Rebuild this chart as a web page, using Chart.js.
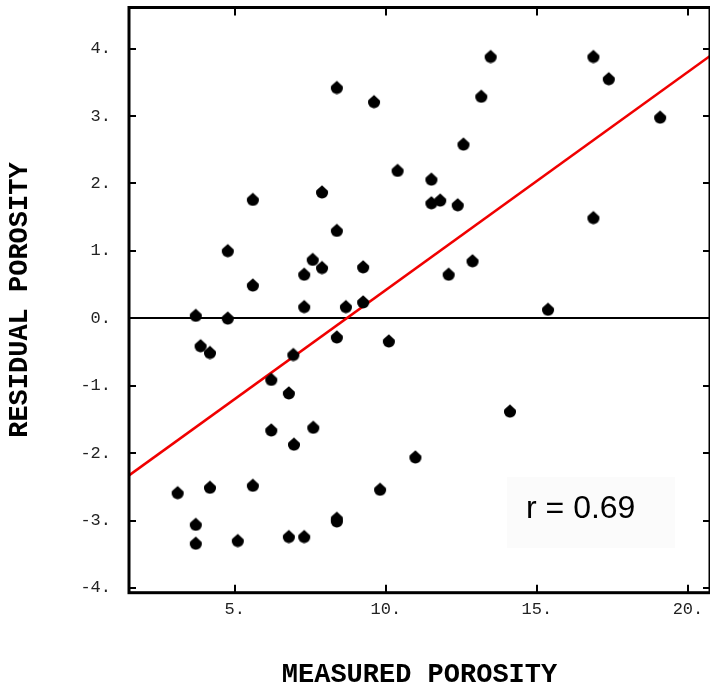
<!DOCTYPE html>
<html>
<head>
<meta charset="utf-8">
<script src="https://cdn.jsdelivr.net/npm/chart.js@4"></script>
<style>
    html, body { margin: 0; padding: 0; background: #fff; overflow: hidden; }
    #graf { display: block; }
</style>
</head>
<body>
<canvas id="graf" width="710" height="689"></canvas>
<script>
// measured porosity vs residual porosity
let porosityX = [8.38, 5.60, 7.89, 4.77, 8.38, 7.58, 7.89, 7.30, 5.60, 7.30, 8.68, 3.71, 4.77,
    9.61, 13.47, 16.87, 17.38, 13.16, 19.08, 12.57, 10.39, 11.51, 11.51, 11.80, 12.38, 16.87,
    9.25, 12.87, 12.08, 9.25, 15.37, 3.87, 4.18, 6.94, 8.38, 6.21, 6.79, 6.21, 7.60, 6.96,
    3.11, 4.18, 5.60, 3.71, 3.71, 5.10, 6.79, 7.30, 8.38, 8.38, 10.10, 14.11, 10.98, 9.81];
let residualY = [3.43, 1.77, 1.88, 1.01, 1.31, 0.88, 0.76, 0.66, 0.50, 0.18, 0.18, 0.05, 0.01,
    3.22, 3.89, 3.89, 3.56, 3.30, 2.99, 2.59, 2.20, 2.07, 1.72, 1.76, 1.69, 1.50,
    0.77, 0.86, 0.66, 0.25, 0.14, -0.40, -0.50, -0.53, -0.27, -0.90, -1.10, -1.65, -1.61, -1.86,
    -2.58, -2.50, -2.47, -3.05, -3.33, -3.29, -3.23, -3.23, -2.96, -3.00, -0.33, -1.37, -2.05, -2.53];

// regression line end points
let fitX = [1.5, 20.73];
let fitY = [-2.33, 3.89];

let xTicks = [5, 10, 15, 20];
let yTicks = [-4, -3, -2, -1, 0, 1, 2, 3, 4];
let rText = "r = 0.69";

let monoFont = "'Liberation Mono', 'Courier New', monospace";

// teardrop shaped marker
function makeMarker() {
    let c = document.createElement("canvas");
    c.width = 14;
    c.height = 15;
    let g = c.getContext("2d");
    g.fillStyle = "#000";
    g.beginPath();
    g.moveTo(7, 1.2);
    g.lineTo(12.6, 6.4);
    g.arc(7, 8.4, 6, -0.35, Math.PI + 0.35);
    g.closePath();
    g.fill();
    return c;
}

// no extra room for the outer tick labels
function noPad(s) {
    s.paddingTop = 0;
    s.paddingBottom = 0;
    s.paddingLeft = 0;
    s.paddingRight = 0;
}

let points = porosityX.map((x, i) => ({ x: x, y: residualY[i] }));
let line = fitX.map((x, i) => ({ x: x, y: fitY[i] }));

// frame, inward ticks and r label
const frame = {
    id: "frame",
    afterDraw(chart) {
        const ctx = chart.ctx;
        const a = chart.chartArea;
        const sx = chart.scales.x;
        const sy = chart.scales.y;
        ctx.save();
        ctx.fillStyle = "#fbfbfb";
        ctx.fillRect(507, 477, 168, 71);
        ctx.fillStyle = "#000";
        ctx.font = "32px 'Liberation Sans', Arial, sans-serif";
        ctx.textBaseline = "alphabetic";
        ctx.fillText(rText, 526, 517.5);

        ctx.strokeStyle = "#000";
        ctx.lineWidth = 3;
        ctx.strokeRect(a.left, a.top, a.right - a.left, a.bottom - a.top);
        ctx.lineWidth = 2;
        ctx.beginPath();
        xTicks.forEach(v => {
            let px = Math.round(sx.getPixelForValue(v));
            ctx.moveTo(px, a.bottom);
            ctx.lineTo(px, a.bottom - 8);
            ctx.moveTo(px, a.top);
            ctx.lineTo(px, a.top + 8);
        });
        yTicks.forEach(v => {
            let py = Math.round(sy.getPixelForValue(v));
            ctx.moveTo(a.left, py);
            ctx.lineTo(a.left + 7, py);
            ctx.moveTo(a.right, py);
            ctx.lineTo(a.right - 7, py);
        });
        ctx.stroke();
        ctx.restore();
    }
};

let chart = new Chart(document.getElementById("graf"), {
    type: "scatter",
    data: {
        datasets: [{
            label: "points",
            data: points,
            pointStyle: makeMarker(),
            pointRadius: 6,
            order: 1
        }, {
            type: "line",
            label: "fit",
            data: line,
            borderColor: "#f00000",
            borderWidth: 2.5,
            pointRadius: 0,
            fill: false,
            order: 2
        }]
    },
    options: {
        responsive: false,
        animation: false,
        events: [],
        // the right side of the frame runs just past the canvas edge
        layout: { autoPadding: false, padding: { top: 7.5, right: -3, left: 0, bottom: 0 } },
        plugins: {
            legend: { display: false },
            tooltip: { enabled: false }
        },
        scales: {
            x: {
                type: "linear",
                min: 1.5,
                max: 20.73,
                afterFit: (s) => { s.height = 96.3; noPad(s); },
                afterBuildTicks: (s) => { s.ticks = xTicks.map(v => ({ value: v })); },
                border: { display: false },
                grid: { display: false, drawTicks: false },
                ticks: {
                    color: "#222",
                    padding: 7,
                    maxRotation: 0,
                    font: { family: monoFont, size: 17 },
                    callback: (v) => v + "."
                },
                title: {
                    display: true,
                    text: "MEASURED POROSITY",
                    color: "#000",
                    padding: { top: 0, bottom: 0 },
                    font: { family: monoFont, size: 27, weight: "bold", lineHeight: 1 }
                }
            },
            y: {
                min: -4.07,
                max: 4.61,
                afterFit: (s) => { s.width = 129; noPad(s); },
                afterBuildTicks: (s) => { s.ticks = yTicks.map(v => ({ value: v })); },
                border: { display: false },
                grid: {
                    drawTicks: false,
                    color: (c) => c.tick && c.tick.value === 0 ? "#000" : "rgba(0,0,0,0)",
                    lineWidth: 2
                },
                ticks: {
                    color: "#222",
                    padding: 18,
                    font: { family: monoFont, size: 17 },
                    callback: (v) => v + "."
                },
                title: {
                    display: true,
                    text: "RESIDUAL POROSITY",
                    color: "#000",
                    padding: { top: 7, bottom: 0 },
                    font: { family: monoFont, size: 27, weight: "bold", lineHeight: 1 }
                }
            }
        }
    },
    plugins: [frame]
});
</script>
</body>
</html>
